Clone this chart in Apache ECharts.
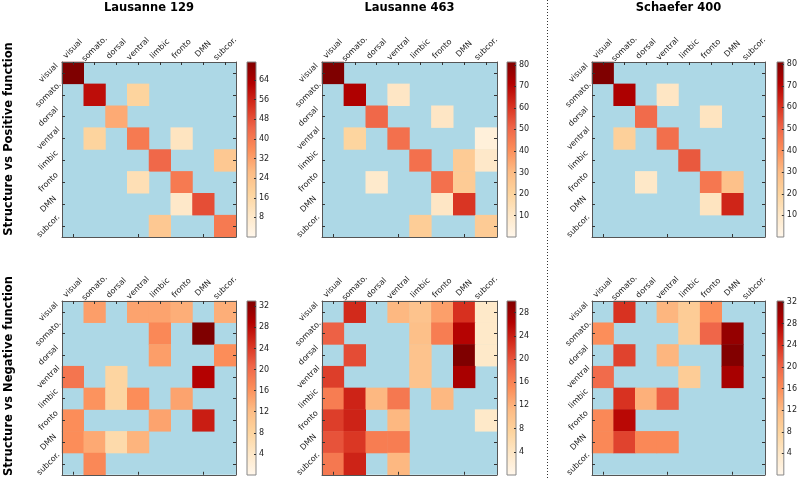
<!DOCTYPE html>
<html>
<head>
<meta charset="utf-8">
<script src="https://cdn.jsdelivr.net/npm/echarts@6/dist/echarts.min.js"></script>
<style>html,body{margin:0;padding:0;background:#fff}#chart{width:800px;height:479px}</style>
</head>
<body>
<div id="chart"></div>
<script>
// ---------- data ----------
const categories = ['visual','somato.','dorsal','ventral','limbic','fronto','DMN','subcor.'];
const columnTitles = ['Lausanne 129','Lausanne 463','Schaefer 400'];
const rowTitles = ['Structure vs Positive function','Structure vs Negative function'];

// rows = y categories (top to bottom), columns = x categories; 0 = not shown (light blue)
const lausanne129Positive = [
  [71.4,0,0,0,0,0,0,0],
  [0,60,0,18,0,0,0,0],
  [0,0,30,0,0,0,0,0],
  [0,18,0,40,0,10.7,0,0],
  [0,0,0,0,44,0,0,22],
  [0,0,0,13,0,40,0,0],
  [0,0,0,0,0,8.8,48.5,0],
  [0,0,0,0,22,0,0,40]
];
const lausanne463Positive = [
  [81.3,0,0,0,0,0,0,0],
  [0,72,0,11,0,0,0,0],
  [0,0,50,0,0,11,0,0],
  [0,20,0,48,0,0,0,5],
  [0,0,0,0,48,0,24,10],
  [0,0,9,0,0,48,24,0],
  [0,0,0,0,0,11,60,0],
  [0,0,0,0,23,0,0,24]
];
const schaefer400Positive = [
  [81,0,0,0,0,0,0,0],
  [0,72,0,11,0,0,0,0],
  [0,0,49,0,0,12,0,0],
  [0,22,0,48,0,0,0,0],
  [0,0,0,0,53,0,0,0],
  [0,0,10,0,0,46,28,0],
  [0,0,0,0,0,12,63,0],
  [0,0,0,0,0,0,0,0]
];
const lausanne129Negative = [
  [0,15,0,14.5,14.5,13.5,0,13.5],
  [0,0,0,0,17,0,33,0],
  [0,0,0,0,15,0,0,16.5],
  [19,0,8,0,0,0,28.8,0],
  [0,16,8,16.5,0,14.5,0,0],
  [16.5,0,0,0,14.5,0,26.4,0],
  [16.5,14,7,13,0,0,0,0],
  [0,17,0,0,0,0,0,0]
];
const lausanne463Negative = [
  [0,23,0,11.5,10,13.5,22.5,3.6],
  [19,0,0,0,10.5,16.5,26,3.6],
  [0,20.5,0,0,10,0,30,3.6],
  [21.5,0,0,0,10,0,27,0],
  [16.5,23.5,11.5,17,0,11.5,0,0],
  [21.5,23.5,0,11.5,0,0,0,3.6],
  [20,22,16.5,16.5,0,0,0,0],
  [17,23.5,0,11.5,0,0,0,0]
];
const schaefer400Negative = [
  [0,24,0,12.5,9.3,16,0,0],
  [16,0,0,0,9.3,20,30.5,0],
  [0,22.7,0,12.5,0,0,32,0],
  [19.5,0,0,0,9.3,0,29,0],
  [0,24,13,20.5,0,0,0,0],
  [16.6,27.5,0,0,0,0,0,0],
  [16.6,22.7,16.6,16.6,0,0,0,0],
  [0,0,0,0,0,0,0,0]
];
const colorbarMax = [71.4, 81.3, 81, 33, 30, 32.2];
const colorbarStep = [8, 10, 10, 4, 4, 4];

// ---------- layout / style ----------
const FONT = 'DejaVu Sans';
const OrRd = ['#fff7ec','#fee8c8','#fdd49e','#fdbb84','#fc8d59','#ef6548','#d7301f','#b30000','#7f0000'];
const matrices = [lausanne129Positive, lausanne463Positive, schaefer400Positive,
                  lausanne129Negative, lausanne463Negative, schaefer400Negative];
const plotBoxes = [
  [62,62,174,175],[322,62,175,175],[592,62,173,175],
  [62,301,174,174],[322,301,175,174],[592,301,173,174]
];
const cbarLeft = [247,507,777,247,507,777];

function toCells(m){
  const out=[];
  m.forEach((row,r)=>row.forEach((v,c)=>{ if(v>0) out.push([c,r,v]); }));
  return out;
}

const grid=[], xAxis=[], yAxis=[], series=[], visualMap=[];
const tickStyle = {show:true, inside:true, length:3, alignWithLabel:true, lineStyle:{color:'#333', width:1}};
const lineStyle = {show:true, lineStyle:{color:'#555', width:1}};

matrices.forEach((m,i)=>{
  const b = plotBoxes[i];
  const gi = grid.length;
  grid.push({left:b[0], top:b[1], width:b[2], height:b[3], show:true, backgroundColor:'#add8e6', borderWidth:0, containLabel:false});
  const xi = xAxis.length;
  xAxis.push({type:'category', gridIndex:gi, position:'top', data:categories, z:5,
    axisLine:lineStyle, axisTick:tickStyle, splitLine:{show:false},
    axisLabel:{interval:0, rotate:-45, fontSize:8, fontFamily:FONT, color:'#222', align:'center', verticalAlign:'middle', margin:13}});
  xAxis.push({type:'category', gridIndex:gi, position:'bottom', data:categories, z:5,
    axisLine:lineStyle, axisTick:tickStyle, splitLine:{show:false}, axisLabel:{show:false}});
  const yi = yAxis.length;
  yAxis.push({type:'category', gridIndex:gi, position:'left', inverse:true, data:categories, z:5,
    axisLine:lineStyle, axisTick:tickStyle, splitLine:{show:false},
    axisLabel:{interval:0, rotate:45, fontSize:8, fontFamily:FONT, color:'#222', align:'center', verticalAlign:'middle', margin:13.5}});
  yAxis.push({type:'category', gridIndex:gi, position:'right', inverse:true, data:categories, z:5,
    axisLine:lineStyle, axisTick:tickStyle, splitLine:{show:false}, axisLabel:{show:false}});
  series.push({type:'heatmap', xAxisIndex:xi, yAxisIndex:yi, data:toCells(m),
    itemStyle:{borderWidth:0}, emphasis:{disabled:true}, progressive:0, animation:false});
  visualMap.push({type:'continuous', show:false, min:0, max:colorbarMax[i], seriesIndex:i, dimension:2, inRange:{color:OrRd}});

  // colorbar
  const cg = grid.length;
  grid.push({left:cbarLeft[i], top:b[1], width:9, height:b[3], show:true, borderColor:'#888', borderWidth:1,
    backgroundColor: new echarts.graphic.LinearGradient(0,1,0,0, OrRd.map((c,k)=>({offset:k/(OrRd.length-1), color:c})))});
  xAxis.push({type:'category', gridIndex:cg, data:[''], show:false});
  yAxis.push({type:'value', gridIndex:cg, position:'right', min:0, max:colorbarMax[i], interval:colorbarStep[i], z:5,
    axisLine:{show:false}, splitLine:{show:false},
    axisTick:{show:true, inside:true, length:2, lineStyle:{color:'#333'}},
    axisLabel:{fontSize:8, fontFamily:FONT, color:'#222', margin:3, showMinLabel:false, showMaxLabel:false}});
});

const graphic = [];
columnTitles.forEach((t,k)=>{
  const b = plotBoxes[k];
  graphic.push({type:'text', x:b[0]+b[2]/2, y:8, style:{text:t, font:'bold 11.5px "'+FONT+'"', fill:'#000', align:'center', verticalAlign:'middle'}});
});
const rowCenters = [139, 376];
rowTitles.forEach((t,k)=>{
  graphic.push({type:'text', x:9, y:rowCenters[k], rotation:Math.PI/2, style:{text:t, font:'bold 11.5px "'+FONT+'"', fill:'#000', align:'center', verticalAlign:'middle'}});
});
graphic.push({type:'line', shape:{x1:547.5, y1:0, x2:547.5, y2:479}, style:{stroke:'#333', lineWidth:1, lineDash:[1,2]}});

const chart = echarts.init(document.getElementById('chart'), null, {renderer:'canvas'});
chart.setOption({
  animation:false,
  textStyle:{fontFamily:FONT},
  grid, xAxis, yAxis, visualMap, series, graphic
});
</script>
</body>
</html>
